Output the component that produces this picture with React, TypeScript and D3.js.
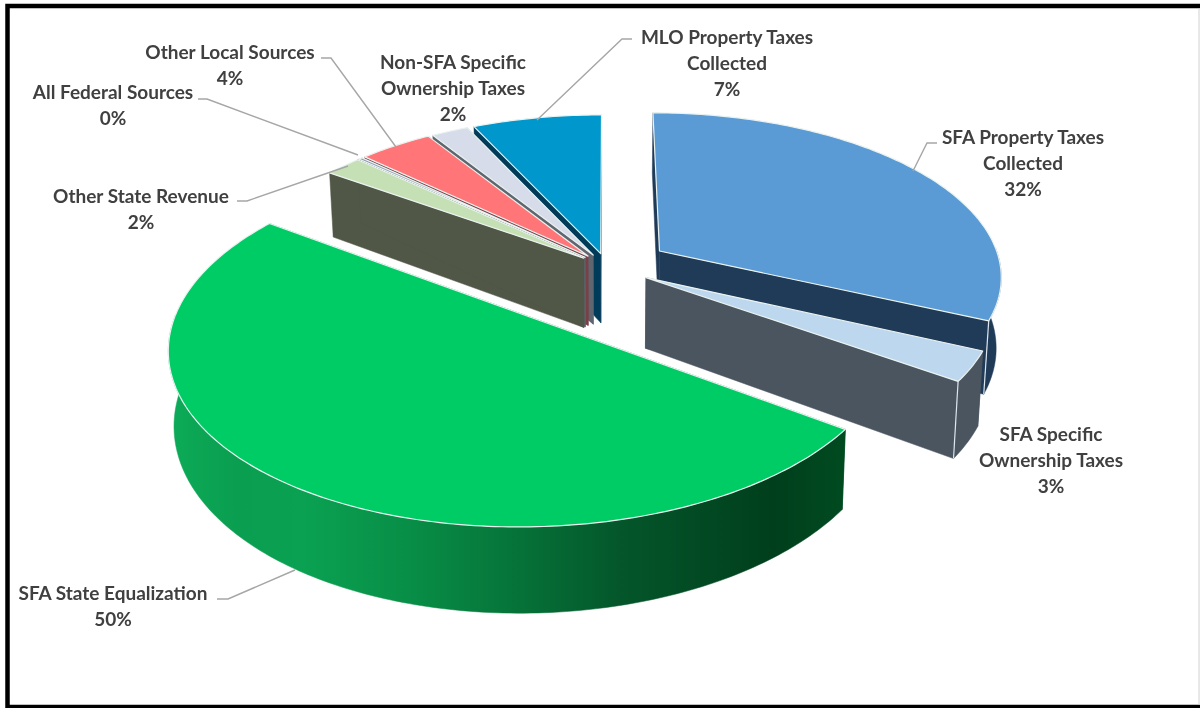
import { useEffect, useRef } from "react";
import * as d3 from "d3";

// chart values, clockwise from 12 o'clock
const categories = [
  "SFA Property Taxes Collected",
  "SFA Specific Ownership Taxes",
  "SFA State Equalization",
  "Other State Revenue",
  "All Federal Sources",
  "Other Local Sources",
  "Non-SFA Specific Ownership Taxes",
  "MLO Property Taxes Collected",
];
const values = [31.8, 2.9, 50, 2, 0.2, 4, 2, 7];
const percentLabels = ["32%", "3%", "50%", "2%", "0%", "4%", "2%", "7%"];

const topColors = ["#5B9BD5", "#BDD7EE", "#00CC66", "#C5E0B4", "#8497B0", "#FF7578", "#D6DCE9", "#0097CC"];
const wallColors = ["#203B58", "#4A5560", "url(#greenWall)", "#515747", "#5B6570", "#7A4048", "#5F6670", "#003B5A"];

// how far each slice is pulled out of the pie
const explode = [0.185, 0.13, 0.365, 0.088, 0.088, 0.088, 0.085, 0.085];
// back slices first so the front ones cover them
const drawOrder = [7, 6, 5, 4, 3, 0, 1, 2];

const labelLines = [
  ["SFA Property Taxes", "Collected"],
  ["SFA Specific", "Ownership Taxes"],
  ["SFA State Equalization"],
  ["Other State Revenue"],
  ["All Federal Sources"],
  ["Other Local Sources"],
  ["Non-SFA Specific", "Ownership Taxes"],
  ["MLO Property Taxes", "Collected"],
];
const labelCenters: [number, number][] = [
  [1023, 138], [1051, 435], [113, 594], [141, 197],
  [113, 93], [230, 53], [453, 63], [727, 38],
];
const leaders: ([number, number][] | null)[] = [
  [[937, 143], [927, 143], [913, 171]],
  null,
  [[217, 599], [228, 599], [295, 570]],
  [[237, 201], [247, 201], [348, 166]],
  [[198, 99], [207, 99], [358, 155]],
  [[321, 58], [331, 58], [396, 147]],
  null,
  [[632, 39], [622, 39], [537, 120]],
];

const greenStops: [number, string][] = [
  [0, "#0CAB58"], [0.1, "#0A9E50"], [0.2, "#0AA152"], [0.35, "#088F47"],
  [0.5, "#06763A"], [0.68, "#04552A"], [0.9, "#003F1C"], [1, "#004A20"],
];

const width = 1200;
const height = 708;
const cx = 607;
const cy = 267;
const A = 342; // horizontal radius
const B = 162.5; // vertical radius
const K = 0.145; // perspective strength
const H = 70; // pie thickness

export default function App() {
  const ref = useRef<SVGSVGElement | null>(null);

  useEffect(() => {
    if (!ref.current) return;

    const svg = d3.select(ref.current);
    svg.selectAll("*").remove(); // clear previous

    const pie = d3.pie<number>().sort(null).value(d => d);
    const arcs = pie(values);
    const line = d3.line();

    // frame: heavy on three sides, faint on the right
    svg.append("path").attr("d", "M1200,6H7.5V707H1200").attr("fill", "none")
      .attr("stroke", "#000").attr("stroke-width", 4.5);
    svg.append("line").attr("x1", 1199).attr("x2", 1199).attr("y1", 8).attr("y2", 705)
      .attr("stroke", "#D0D0D0").attr("stroke-width", 1);

    const grad = svg.append("defs").append("linearGradient")
      .attr("id", "greenWall")
      .attr("gradientUnits", "userSpaceOnUse")
      .attr("x1", 170).attr("x2", 840).attr("y1", 0).attr("y2", 0);
    greenStops.forEach(([o, c]) => {
      grad.append("stop").attr("offset", o).attr("stop-color", c);
    });

    // ground plane (X, Y in pie radii, Y pointing back) to screen, z = 1 is the underside
    const project = (X: number, Y: number, z: number): [number, number] => {
      const s = 1 / (1 + K * Y);
      return [cx + A * X * s * (1 - 0.013 * z), cy - B * Y * s + H * s * z];
    };

    drawOrder.forEach(i => {
      const a = arcs[i];
      const mid = (a.startAngle + a.endAngle) / 2;
      const ox = explode[i] * Math.sin(mid);
      const oy = explode[i] * Math.cos(mid);
      const rim = (t: number, z: number) => project(ox + Math.sin(t), oy + Math.cos(t), z);
      const apex = (z: number) => project(ox, oy, z);

      const n = Math.max(2, Math.ceil((a.endAngle - a.startAngle) * 60));
      const ts = d3.range(n + 1).map(k => a.startAngle + (a.endAngle - a.startAngle) * k / n);

      const g = svg.append("g");
      const wall = (pts: [number, number][]) =>
        g.append("path").attr("d", line(pts) + "Z")
          .attr("fill", wallColors[i])
          .attr("stroke", wallColors[i]).attr("stroke-width", 0.5);

      wall([apex(0), rim(a.startAngle, 0), rim(a.startAngle, 1), apex(1)]);
      wall([apex(0), rim(a.endAngle, 0), rim(a.endAngle, 1), apex(1)]);
      // outer wall only where the rim faces the viewer
      const front = ts.filter(t => Math.cos(t) <= 0.02);
      if (front.length > 1) {
        wall([...front.map(t => rim(t, 0)), ...front.slice().reverse().map(t => rim(t, 1))]);
      }
      // pale seam on the corner of the two blue slices
      if (i < 2) {
        g.append("path").attr("d", line([rim(a.endAngle, 0), rim(a.endAngle, 1)]))
          .attr("stroke", "#DCE6EE").attr("stroke-width", 1.2);
      }

      g.append("path")
        .attr("d", line([apex(0), ...ts.map(t => rim(t, 0))]) + "Z")
        .attr("fill", topColors[i])
        .attr("stroke", "#EAF3F0").attr("stroke-width", 1.2).attr("stroke-linejoin", "round");
    });

    // leader lines
    leaders.forEach(pts => {
      if (!pts) return;
      svg.append("path").attr("d", line(pts)).attr("fill", "none")
        .attr("stroke", "#A6A6A6").attr("stroke-width", 1.4);
    });

    // labels
    categories.forEach((_, i) => {
      const [x, y] = labelCenters[i];
      const rows = [...labelLines[i], percentLabels[i]];
      const t = svg.append("text")
        .attr("text-anchor", "middle")
        .attr("font-family", "Lato, 'Open Sans', sans-serif")
        .attr("font-weight", 700).attr("font-size", 19)
        .attr("fill", "#404040");
      rows.forEach((r, k) => {
        t.append("tspan").attr("x", x).attr("y", y + 6 + k * 26).text(r);
      });
    });
  }, []);

  return (
    <svg ref={ref} width={width} height={height}
      style={{ position: "fixed", left: 0, top: 0, display: "block" }} />
  );
}
